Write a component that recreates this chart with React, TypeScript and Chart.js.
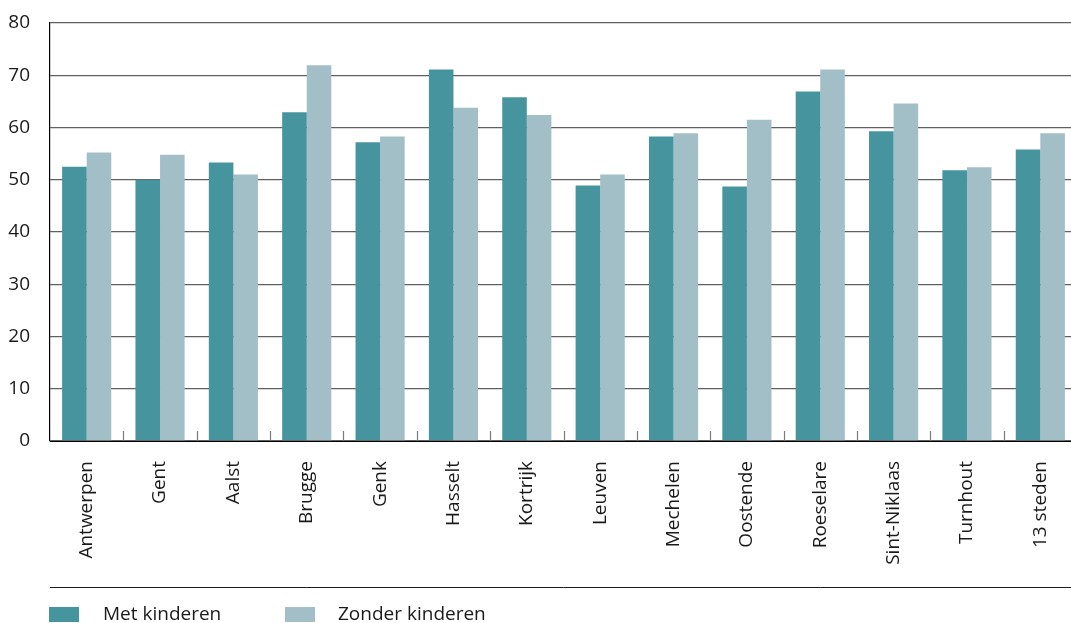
import React, { useEffect, useRef } from "react";
import { Chart, registerables } from "chart.js";

Chart.register(...registerables);

const categories = [
  "Antwerpen", "Gent", "Aalst", "Brugge", "Genk", "Hasselt", "Kortrijk",
  "Leuven", "Mechelen", "Oostende", "Roeselare", "Sint-Niklaas", "Turnhout", "13 steden",
];
const metKinderen = [52.5, 50.0, 53.3, 62.9, 57.2, 71.1, 65.8, 48.9, 58.3, 48.7, 66.9, 59.3, 51.8, 55.8];
const zonderKinderen = [55.2, 54.8, 51.0, 71.9, 58.3, 63.8, 62.4, 51.0, 58.9, 61.5, 71.1, 64.6, 52.4, 58.9];
const seriesLabels = ["Met kinderen", "Zonder kinderen"];
const seriesColors = ["#46949D", "#A2BFC7"];

const FONT = "'Open Sans', sans-serif";

const extrasPlugin = {
  id: "extras",
  afterDraw(chart: any) {
    const ctx = chart.ctx;
    const x = chart.scales.x;
    const area = chart.chartArea;
    ctx.save();
    ctx.strokeStyle = "#7a7a7a";
    ctx.lineWidth = 1.2;
    const n = chart.data.labels.length;
    const step = x.getPixelForValue(1) - x.getPixelForValue(0);
    for (let i = 1; i <= n; i++) {
      const bx = x.getPixelForValue(i - 1) + step / 2;
      ctx.beginPath();
      ctx.moveTo(Math.round(bx) + 0.5, area.bottom - 10);
      ctx.lineTo(Math.round(bx) + 0.5, area.bottom);
      ctx.stroke();
    }
    ctx.strokeStyle = "#1a1a1a";
    ctx.lineWidth = 1;
    ctx.beginPath();
    ctx.moveTo(area.left, 579.5);
    ctx.lineTo(chart.width, 579.5);
    ctx.stroke();
    const items = chart.data.datasets;
    const boxX = [41, 277];
    const textX = [95, 330];
    ctx.font = `19px ${FONT}`;
    ctx.textBaseline = "alphabetic";
    ctx.textAlign = "left";
    items.forEach((ds: any, i: number) => {
      ctx.fillStyle = ds.backgroundColor;
      ctx.fillRect(boxX[i], 599, 30, 15);
      ctx.fillStyle = "#1a1a1a";
      ctx.fillText(ds.label, textX[i], 612);
    });
    ctx.restore();
  },
};

export default function App() {
  const ref = useRef<HTMLCanvasElement>(null);
  useEffect(() => {
    if (!ref.current) return;
    const chart = new Chart(ref.current, {
      type: "bar",
      data: {
        labels: categories,
        datasets: [
          { label: seriesLabels[0], data: metKinderen, backgroundColor: seriesColors[0] },
          { label: seriesLabels[1], data: zonderKinderen, backgroundColor: seriesColors[1] },
        ],
      },
      options: {
        responsive: false,
        animation: false,
        devicePixelRatio: 1,
        layout: { padding: { top: 15, right: 0, bottom: 47, left: 0 } },
        datasets: { bar: { categoryPercentage: 0.67, barPercentage: 1.0 } },
        plugins: { legend: { display: false }, tooltip: { enabled: false } },
        scales: {
          x: {
            offset: true,
            grid: { display: false, drawTicks: false },
            border: { display: true, color: "#000", width: 1 },
            ticks: {
              font: { family: FONT, size: 19 },
              color: "#1a1a1a",
              maxRotation: 90,
              minRotation: 90,
              padding: 20,
              autoSkip: false,
            },
            afterFit(scale: any) {
              scale.height = 140;
              scale.paddingLeft = 0;
              scale.paddingRight = 0;
            },
          },
          y: {
            min: 0,
            max: 80,
            ticks: {
              stepSize: 10,
              font: { family: FONT, size: 19 },
              color: "#1a1a1a",
              padding: 20,
            },
            grid: { color: "#606060", lineWidth: 1.3, drawTicks: false },
            border: { display: true, color: "#000", width: 1.2 },
            afterFit(scale: any) {
              scale.width = 42;
              scale.paddingTop = 0;
              scale.paddingBottom = 0;
            },
          },
        },
      },
      plugins: [extrasPlugin],
    });
    return () => chart.destroy();
  }, []);
  return (
    <div style={{ position: "fixed", top: 8, left: 8, width: 1063, height: 615, overflow: "hidden" }}>
      <canvas ref={ref} width={1069} height={620} style={{ display: "block" }} />
    </div>
  );
}
